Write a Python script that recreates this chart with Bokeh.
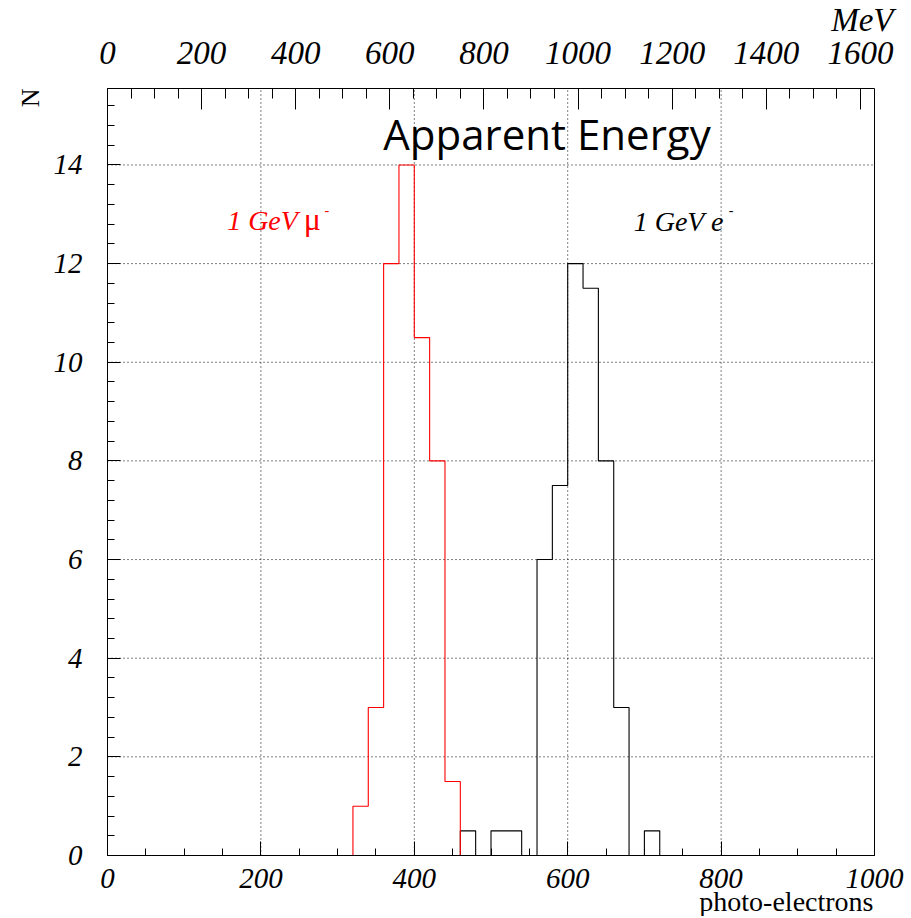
import math
from bokeh.plotting import figure
from bokeh.models import Range1d, LinearAxis, FixedTicker, Label
from bokeh.embed import file_html
from bokeh.resources import INLINE

# ---------------- data ----------------
bin_width = 20
x_min, x_max = 0, 1000
y_max = 15.55
mev_per_pe = 1.63          # top axis: MeV scale matching photo-electrons

mu_bin_lo = [320, 340, 360, 380, 400, 420, 440]
mu_counts = [1, 3, 12, 14, 10.5, 8, 1.5]

e_bin_lo = [460, 500, 520, 560, 580, 600, 620, 640, 660, 700]
e_counts = [0.5, 0.5, 0.5, 6, 7.5, 12, 11.5, 8, 3, 0.5]

x_ticks = [0, 200, 400, 600, 800, 1000]
y_ticks = [0, 2, 4, 6, 8, 10, 12, 14]
mev_ticks = [0, 200, 400, 600, 800, 1000, 1200, 1400, 1600]


def full_hist(lo, counts):
    n = (x_max - x_min) // bin_width
    vals = [0.0] * n
    for l, c in zip(lo, counts):
        vals[(l - x_min) // bin_width] = c
    edges = [x_min + i * bin_width for i in range(n + 1)]
    return edges, vals + [0.0]


mu_x, mu_y = full_hist(mu_bin_lo, mu_counts)
e_x, e_y = full_hist(e_bin_lo, e_counts)

# ---------------- layout (pixels) ----------------
W, H = 904, 916
box_left, box_right, box_top, box_bottom = 107, 874, 88, 855
px_per_x = (box_right - box_left) / (x_max - x_min)
px_per_y = (box_bottom - box_top) / y_max

xr = Range1d(x_min - box_left / px_per_x, x_max + (W - box_right) / px_per_x)
yr = Range1d(-(H - box_bottom) / px_per_y, y_max + box_top / px_per_y)

SERIF = "Liberation Serif"

p = figure(width=W, height=H, output_backend="svg", toolbar_location=None,
           x_range=xr, y_range=yr, x_axis_location=None, y_axis_location=None,
           min_border=0)
p.background_fill_color = "white"
p.border_fill_color = "white"
p.outline_line_color = None
p.grid.visible = False

p.extra_x_ranges = {"mev": Range1d(xr.start * mev_per_pe, xr.end * mev_per_pe)}

xt = FixedTicker(ticks=x_ticks, minor_ticks=list(range(0, 1001, 50)))
yt = FixedTicker(ticks=y_ticks, minor_ticks=[round(0.4 * i, 1) for i in range(0, 39)])
mt = FixedTicker(ticks=mev_ticks, minor_ticks=list(range(0, 1601, 50)))

# ---------------- grid (dotted) ----------------
gx = x_ticks[1:-1]
p.segment(x0=gx, y0=[0] * len(gx), x1=gx, y1=[y_max] * len(gx),
          line_color="black", line_dash="1 3", line_width=1, line_alpha=1.0)
gy = y_ticks[1:]
p.segment(x0=[x_min] * len(gy), y0=gy, x1=[x_max] * len(gy), y1=gy,
          line_color="black", line_dash="1 3", line_width=1, line_alpha=1.0)

# ---------------- histograms ----------------
p.step(e_x, e_y, mode="after", line_color="black", line_width=1.1)
p.step(mu_x, mu_y, mode="after", line_color="#ff0000", line_width=1.1)


# ---------------- axes ----------------
def style_axis(ax, size, tick_in, minor_in, standoff):
    ax.axis_line_color = "black"
    ax.axis_line_width = 1
    ax.major_tick_in = tick_in
    ax.major_tick_out = 0
    ax.minor_tick_in = minor_in
    ax.minor_tick_out = 0
    ax.major_tick_line_color = "black"
    ax.minor_tick_line_color = "black"
    ax.major_label_text_font = SERIF
    ax.major_label_text_font_style = "italic"
    ax.major_label_text_font_size = size
    ax.major_label_text_color = "black"
    ax.major_label_standoff = standoff


bottom = LinearAxis(ticker=xt, fixed_location=0, bounds=(x_min, x_max))
style_axis(bottom, "29px", 14, 7, 13)
p.add_layout(bottom, "below")

left = LinearAxis(ticker=yt, fixed_location=x_min, bounds=(0, y_max))
style_axis(left, "29px", 13, 7, 25)
p.add_layout(left, "left")

top = LinearAxis(ticker=mt, x_range_name="mev", fixed_location=y_max,
                 bounds=(x_min * mev_per_pe, x_max * mev_per_pe))
style_axis(top, "33px", 21, 10, 25)
p.add_layout(top, "above")

right = LinearAxis(ticker=FixedTicker(ticks=[]), fixed_location=x_max,
                   bounds=(0, y_max))
right.major_tick_line_color = None
right.minor_tick_line_color = None
right.major_label_text_color = None
right.axis_line_color = "black"
p.add_layout(right, "right")

# ---------------- texts ----------------
p.add_layout(Label(x=573, y=14.64, text="Apparent Energy", text_align="center",
                   text_baseline="alphabetic", text_font="Open Sans",
                   text_font_size="42px", text_color="black"))

p.add_layout(Label(x=156, y=12.87, text="1 GeV", text_font=SERIF,
                   text_font_style="italic", text_font_size="28px",
                   text_color="#ff0000", text_baseline="alphabetic"))
p.add_layout(Label(x=256, y=12.90, text="\u03bc", text_font=SERIF,
                   text_font_size="32px", text_color="#ff0000",
                   text_baseline="alphabetic"))
p.add_layout(Label(x=283, y=13.09, text="-", text_font=SERIF,
                   text_font_size="14px", text_color="#ff0000",
                   text_baseline="alphabetic"))

p.add_layout(Label(x=686, y=12.85, text="1 GeV e", text_font=SERIF,
                   text_font_style="italic", text_font_size="28px",
                   text_color="black", text_baseline="alphabetic"))
p.add_layout(Label(x=810, y=13.09, text="-", text_font=SERIF,
                   text_font_size="14px", text_color="black",
                   text_baseline="alphabetic"))

p.add_layout(Label(x=1024.8, y=16.93, text="MeV", text_font=SERIF,
                   text_font_style="italic", text_font_size="33px",
                   text_color="black", text_align="right",
                   text_baseline="alphabetic"))

p.add_layout(Label(x=-100.4, y=y_max, text="N", text_font=SERIF,
                   text_font_size="26px", text_color="black",
                   text_align="right", text_baseline="alphabetic",
                   angle=math.pi / 2))

p.add_layout(Label(x=998.7, y=-0.93, text="photo-electrons", text_font=SERIF,
                   text_font_size="28px", text_color="black",
                   text_align="right", text_baseline="alphabetic"))

open("out.html", "w").write(file_html(p, INLINE))
